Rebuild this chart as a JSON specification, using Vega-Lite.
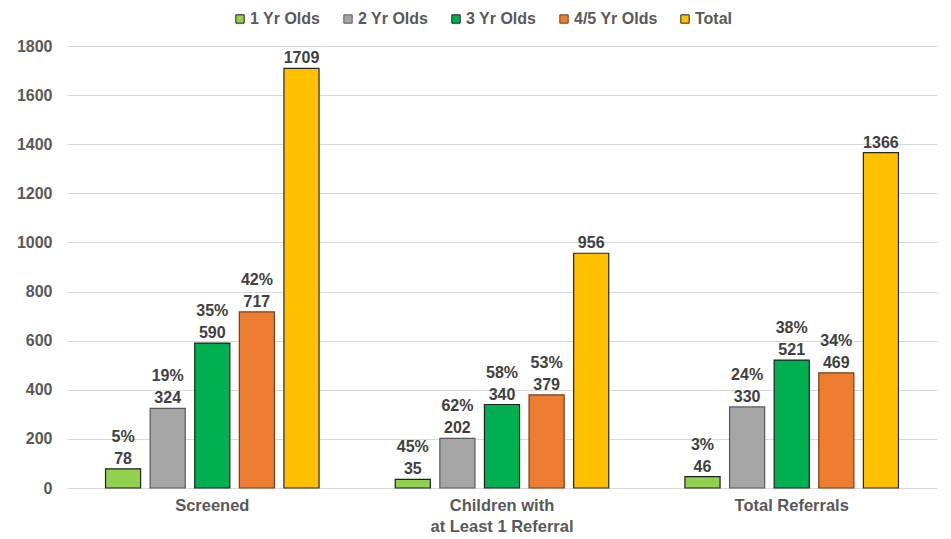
{
  "$schema": "https://vega.github.io/schema/vega-lite/v6.json",
  "width": 870,
  "height": 442,
  "autosize": {"type": "none"},
  "padding": {"left": 67, "top": 46, "right": 14, "bottom": 51},
  "background": "white",
  "config": {
    "font": "Liberation Sans",
    "view": {"stroke": null},
    "axis": {"labelFont": "Liberation Sans", "labelFontWeight": "bold", "labelColor": "#595959"}
  },
  "data": {
    "values": [
      {"cat": "Screened", "series": "1 Yr Olds", "value": 78, "pct": "5%"},
      {"cat": "Screened", "series": "2 Yr Olds", "value": 324, "pct": "19%"},
      {"cat": "Screened", "series": "3 Yr Olds", "value": 590, "pct": "35%"},
      {"cat": "Screened", "series": "4/5 Yr Olds", "value": 717, "pct": "42%"},
      {"cat": "Screened", "series": "Total", "value": 1709, "pct": ""},
      {"cat": "Children with at Least 1 Referral", "series": "1 Yr Olds", "value": 35, "pct": "45%"},
      {"cat": "Children with at Least 1 Referral", "series": "2 Yr Olds", "value": 202, "pct": "62%"},
      {"cat": "Children with at Least 1 Referral", "series": "3 Yr Olds", "value": 340, "pct": "58%"},
      {"cat": "Children with at Least 1 Referral", "series": "4/5 Yr Olds", "value": 379, "pct": "53%"},
      {"cat": "Children with at Least 1 Referral", "series": "Total", "value": 956, "pct": ""},
      {"cat": "Total Referrals", "series": "1 Yr Olds", "value": 46, "pct": "3%"},
      {"cat": "Total Referrals", "series": "2 Yr Olds", "value": 330, "pct": "24%"},
      {"cat": "Total Referrals", "series": "3 Yr Olds", "value": 521, "pct": "38%"},
      {"cat": "Total Referrals", "series": "4/5 Yr Olds", "value": 469, "pct": "34%"},
      {"cat": "Total Referrals", "series": "Total", "value": 1366, "pct": ""}
    ]
  },
  "encoding": {
    "x": {
      "field": "cat", "type": "nominal", "sort": null,
      "scale": {"paddingInner": 0.263, "paddingOuter": 0.133},
      "axis": {
        "title": null, "labelAngle": 0, "domain": false, "ticks": false,
        "labelFontSize": 16.5, "labelPadding": 9, "labelLineHeight": 21,
        "labelExpr": "datum.label == 'Children with at Least 1 Referral' ? ['Children with', 'at Least 1 Referral'] : datum.label"
      }
    },
    "xOffset": {
      "field": "series", "type": "nominal", "sort": null,
      "scale": {"paddingInner": 0.213, "paddingOuter": 0}
    },
    "y": {
      "field": "value", "type": "quantitative",
      "scale": {"domain": [0, 1800], "nice": false},
      "axis": {
        "title": null, "values": [0, 200, 400, 600, 800, 1000, 1200, 1400, 1600, 1800],
        "format": "d",
        "domain": false, "ticks": false, "labelFontSize": 16, "labelPadding": 15,
        "gridColor": "#d9d9d9", "gridWidth": 1
      }
    }
  },
  "layer": [
    {
      "mark": {"type": "bar", "strokeWidth": 1.2},
      "encoding": {
        "fill": {
          "field": "series", "type": "nominal", "sort": null,
          "scale": {
            "domain": ["1 Yr Olds", "2 Yr Olds", "3 Yr Olds", "4/5 Yr Olds", "Total"],
            "range": ["#92D050", "#A5A5A5", "#00B050", "#ED7D31", "#FFC000"]
          },
          "legend": {
            "title": null, "orient": "none", "direction": "horizontal",
            "legendX": 165, "legendY": -35,
            "symbolType": "square", "symbolSize": 70, "symbolStrokeColor": "#404040", "symbolStrokeWidth": 1,
            "labelFont": "Liberation Sans", "labelFontWeight": "bold", "labelFontSize": 16, "labelColor": "#595959",
            "labelOffset": 2, "columnPadding": 19
          }
        },
        "stroke": {
          "field": "series", "type": "nominal", "sort": null,
          "scale": {
            "domain": ["1 Yr Olds", "2 Yr Olds", "3 Yr Olds", "4/5 Yr Olds", "Total"],
            "range": ["#1f1f1f", "#595959", "#1f1f1f", "#7a3d14", "#262626"]
          },
          "legend": null
        }
      }
    },
    {
      "mark": {"type": "text", "baseline": "alphabetic", "dy": -5, "fontSize": 16, "fontWeight": "bold", "color": "#404040"},
      "encoding": {"text": {"field": "value", "type": "quantitative", "format": "d"}}
    },
    {
      "mark": {"type": "text", "baseline": "alphabetic", "dy": -27, "fontSize": 16, "fontWeight": "bold", "color": "#404040"},
      "encoding": {"text": {"field": "pct", "type": "nominal"}}
    }
  ]
}
